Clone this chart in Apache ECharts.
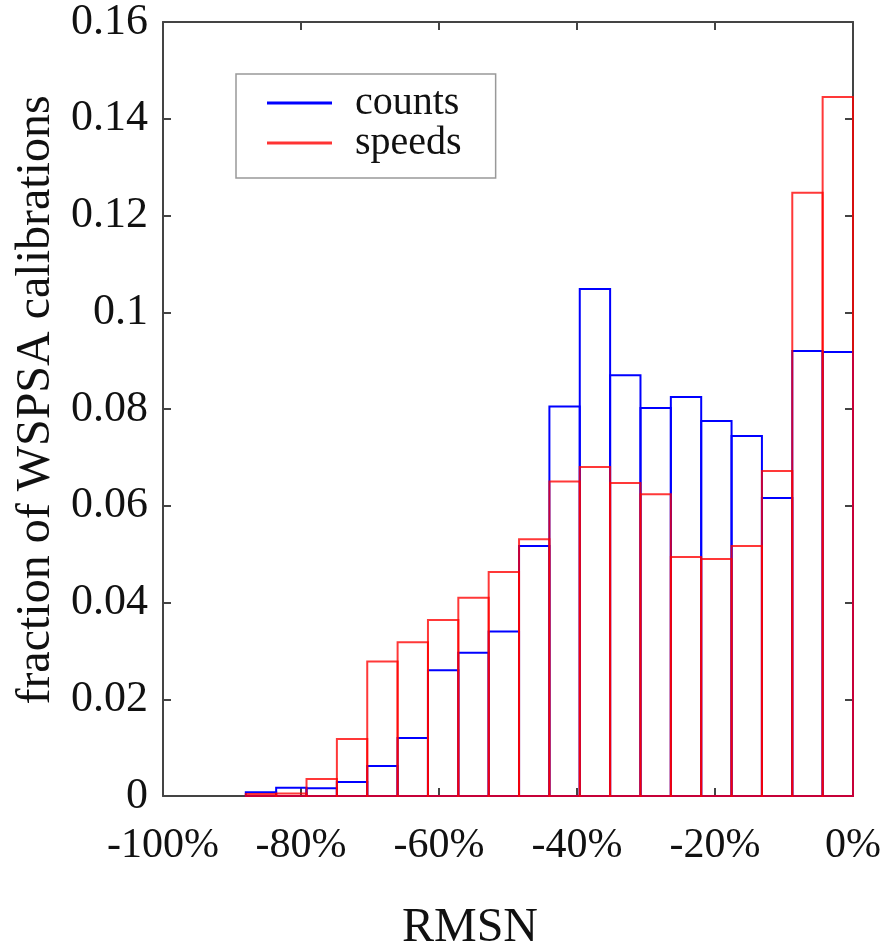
<html>
  <head>
    <meta charset="UTF-8" />
    <script src="https://cdn.jsdelivr.net/npm/echarts/dist/echarts.min.js"></script>
    <title>RMSN histogram</title>
    <style>
      html, body { margin: 0; padding: 0; background: #fff; }
      #main { width: 889px; height: 949px; }
    </style>
  </head>
  <body>
    <div id="main"></div>
    <script>
      // histogram bin edges (RMSN, %)
      const binEdges = [-88, -83.6, -79.2, -74.8, -70.4, -66, -61.6, -57.2, -52.8, -48.4,
        -44, -39.6, -35.2, -30.8, -26.4, -22, -17.6, -13.2, -8.8, -4.4, 0];
      // fraction of calibrations per bin
      const counts = [0.0008, 0.0017, 0.0016, 0.0029, 0.0062, 0.012, 0.026, 0.0296, 0.034, 0.0517,
        0.0805, 0.1048, 0.087, 0.0802, 0.0825, 0.0775, 0.0744, 0.0616, 0.092, 0.0918];
      const speeds = [0.0004, 0.0005, 0.0035, 0.0118, 0.0278, 0.0318, 0.0364, 0.041, 0.0463, 0.0531,
        0.065, 0.068, 0.0647, 0.0624, 0.0494, 0.049, 0.0517, 0.0672, 0.1247, 0.1445];
      const seriesNames = ['counts', 'speeds'];

      const font = 'Liberation Serif';
      const frame = { show: true, onZero: false, lineStyle: { color: '#444', width: 2 } };
      const ticks = { show: true, inside: true, length: 8, lineStyle: { color: '#444', width: 2 } };

      function toBins(values) {
        return values.map((v, i) => [binEdges[i], binEdges[i + 1], v]);
      }

      function outlineBars(color) {
        return function (params, api) {
          const p0 = api.coord([api.value(0), 0]);
          const p1 = api.coord([api.value(1), api.value(2)]);
          return {
            type: 'rect',
            shape: { x: p0[0], y: p1[1], width: p1[0] - p0[0], height: p0[1] - p1[1] },
            style: { fill: 'none', stroke: color, lineWidth: 2 }
          };
        };
      }

      const chart = echarts.init(document.getElementById('main'));
      const option = {
        animation: false,
        grid: { left: 163, right: 36, top: 22, bottom: 153, containLabel: false, outerBoundsMode: 'none' },
        legend: {
          left: 236,
          top: 74,
          orient: 'vertical',
          icon: 'rect',
          itemWidth: 65,
          itemHeight: 3,
          itemGap: 0,
          padding: [9, 34, 15, 31],
          backgroundColor: '#fff',
          borderColor: '#999',
          borderWidth: 1.5,
          borderRadius: 0,
          textStyle: { fontFamily: font, fontSize: 40, color: '#111', lineHeight: 40, padding: [0, 0, 0, 18] },
          data: seriesNames
        },
        xAxis: [
          {
            type: 'value',
            min: -100,
            max: 0,
            interval: 20,
            position: 'bottom',
            axisLine: frame,
            axisTick: ticks,
            splitLine: { show: false },
            axisLabel: { formatter: '{value}%', fontFamily: font, fontSize: 42, color: '#111', margin: 29 },
            name: 'RMSN',
            nameLocation: 'middle',
            nameGap: 108,
            nameTextStyle: { fontFamily: font, fontSize: 48, color: '#111', padding: [0, 76, 0, 0] }
          },
          {
            type: 'value',
            min: -100,
            max: 0,
            interval: 20,
            position: 'top',
            axisLine: frame,
            axisTick: ticks,
            splitLine: { show: false },
            axisLabel: { show: false }
          }
        ],
        yAxis: [
          {
            type: 'value',
            min: 0,
            max: 0.16,
            interval: 0.02,
            position: 'left',
            axisLine: frame,
            axisTick: ticks,
            splitLine: { show: false },
            axisLabel: { fontFamily: font, fontSize: 44, color: '#111', margin: 15 },
            name: 'fraction of WSPSA calibrations',
            nameLocation: 'middle',
            nameGap: 84,
            nameTextStyle: { fontFamily: font, fontSize: 48, color: '#111', padding: [0, 0, 0, 18] }
          },
          {
            type: 'value',
            min: 0,
            max: 0.16,
            interval: 0.02,
            position: 'right',
            axisLine: frame,
            axisTick: ticks,
            splitLine: { show: false },
            axisLabel: { show: false }
          }
        ],
        series: [
          {
            name: seriesNames[0],
            type: 'custom',
            xAxisIndex: 0,
            yAxisIndex: 0,
            itemStyle: { color: '#0000ff' },
            renderItem: outlineBars('#0000ff'),
            encode: { x: [0, 1], y: 2 },
            data: toBins(counts)
          },
          {
            name: seriesNames[1],
            type: 'custom',
            xAxisIndex: 0,
            yAxisIndex: 0,
            itemStyle: { color: 'rgba(255,0,0,0.8)' },
            renderItem: outlineBars('rgba(255,0,0,0.78)'),
            encode: { x: [0, 1], y: 2 },
            data: toBins(speeds)
          }
        ]
      };
      chart.setOption(option);
    </script>
  </body>
</html>
